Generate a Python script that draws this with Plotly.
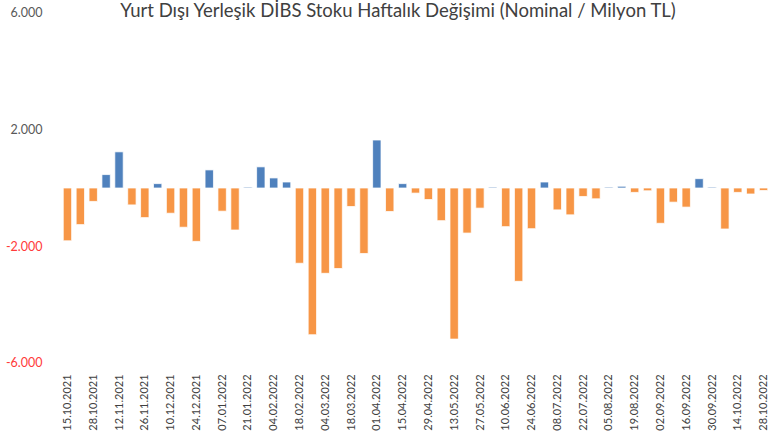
import plotly.graph_objects as go

dates = [
    "15.10.2021", "22.10.2021", "28.10.2021", "05.11.2021", "12.11.2021", "19.11.2021",
    "26.11.2021", "03.12.2021", "10.12.2021", "17.12.2021", "24.12.2021", "31.12.2021",
    "07.01.2022", "14.01.2022", "21.01.2022", "28.01.2022", "04.02.2022", "11.02.2022",
    "18.02.2022", "25.02.2022", "04.03.2022", "11.03.2022", "18.03.2022", "25.03.2022",
    "01.04.2022", "08.04.2022", "15.04.2022", "22.04.2022", "29.04.2022", "06.05.2022",
    "13.05.2022", "20.05.2022", "27.05.2022", "03.06.2022", "10.06.2022", "17.06.2022",
    "24.06.2022", "01.07.2022", "08.07.2022", "15.07.2022", "22.07.2022", "29.07.2022",
    "05.08.2022", "12.08.2022", "19.08.2022", "26.08.2022", "02.09.2022", "09.09.2022",
    "16.09.2022", "23.09.2022", "30.09.2022", "07.10.2022", "14.10.2022", "21.10.2022",
    "28.10.2022",
]

values = [
    -1810, -1255, -460, 460, 1240, -580, -1015, 150, -865, -1345, -1830,
    620, -795, -1440, 30, 725, 345, 205, -2580, -5030, -2925, -2760,
    -635, -2245, 1645, -805, 150, -175, -395, -1120, -5180, -1545, -690,
    30, -1325, -3200, -1395, 205, -750, -920, -290, -370, 30, 60,
    -150, -95, -1210, -485, -655, 320, 30, -1405, -150, -205, -85,
]

y_tick_vals = [-6000, -2000, 2000, 6000]
y_tick_text = [
    "<span style='color:#FF3B3B'>-6.000</span>",
    "<span style='color:#FF3B3B'>-2.000</span>",
    "2.000",
    "6.000",
]

title_text = "Yurt Dışı Yerleşik DİBS Stoku Haftalık Değişimi (Nominal / Milyon TL)"

BLUE = "#4F81BD"
ORANGE = "#F79646"
colors = [BLUE if v >= 0 else ORANGE for v in values]

fig = go.Figure(
    go.Bar(
        x=dates,
        y=values,
        marker=dict(color=colors, line=dict(color="rgba(255,255,255,0.75)", width=1)),
    )
)

fig.update_layout(
    width=780,
    height=436,
    margin=dict(l=61, r=10, t=13, b=73, autoexpand=False),
    paper_bgcolor="white",
    plot_bgcolor="white",
    font=dict(family="Lato, Open Sans, sans-serif", color="#595959"),
    bargap=0.35,
    showlegend=False,
    title=dict(
        text=title_text,
        x=398 / 780,
        xanchor="center",
        xref="container",
        y=1 - 11 / 436,
        yanchor="middle",
        yref="container",
        automargin=False,
        font=dict(size=18.5, color="#404040"),
    ),
)

fig.update_xaxes(
    type="category",
    tickmode="array",
    tickvals=dates[::2],
    ticktext=dates[::2],
    tickangle=-90,
    tickfont=dict(size=11, color="#404040"),
    showgrid=False,
    showline=False,
    zeroline=False,
    automargin=False,
    ticks="outside",
    ticklen=6,
    tickcolor="rgba(0,0,0,0)",
)

fig.update_yaxes(
    range=[-6000, 6000],
    tickmode="array",
    tickvals=y_tick_vals,
    ticktext=y_tick_text,
    tickfont=dict(size=12.5, color="#595959"),
    showgrid=False,
    zeroline=False,
    showline=False,
    automargin=False,
    ticks="outside",
    ticklen=15,
    tickcolor="rgba(0,0,0,0)",
)

fig.write_html(
    "out.html",
    config={"displayModeBar": False},
    post_script="document.body.style.margin='0';document.body.style.overflow='hidden';",
)
